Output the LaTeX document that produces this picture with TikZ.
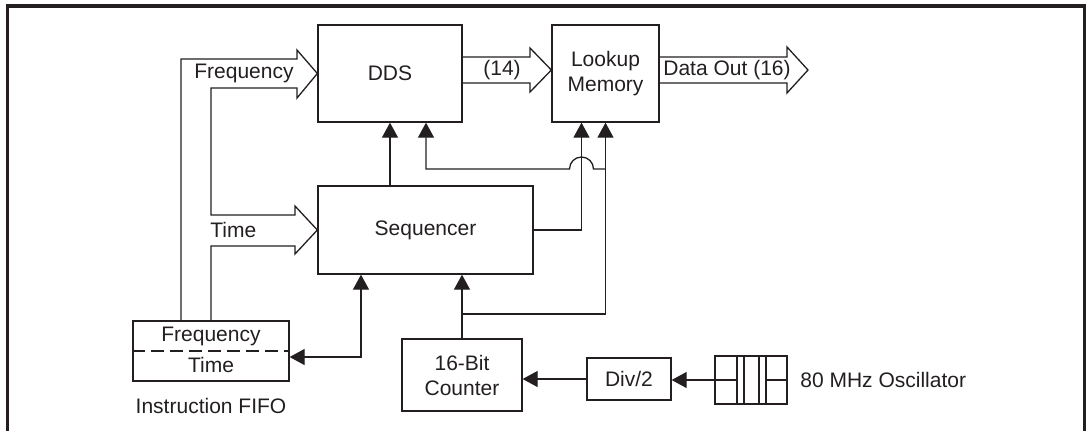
\documentclass[tikz,border=0pt]{standalone}
\usepackage{fontspec}
\setmainfont{Liberation Sans}
\usepackage{tikz}
\usetikzlibrary{arrows.meta,positioning}
\usepackage{xcolor}
\definecolor{niblack}{RGB}{35,31,32}
\tikzstyle{block} = [rectangle, draw=niblack, line width=0.65pt, inner sep=0pt, text centered, align=center, text=niblack]
\tikzstyle{bus} = [draw=niblack, line width=0.65pt, line join=miter]
\tikzstyle{arrow} = [draw=niblack, line width=0.65pt, -{Triangle[length=7.5pt,width=8pt]}]
\tikzstyle{dblarrow} = [draw=niblack, line width=0.65pt, {Triangle[length=7.5pt,width=8pt]}-{Triangle[length=7.5pt,width=8pt]}]
\tikzstyle{tagtext} = [text=niblack, inner sep=0pt]
\begin{document}
\begin{tikzpicture}[x=0.5pt, y=-0.5pt, font=\fontsize{10.5}{12.5}\selectfont]
\useasboundingbox (0,0) rectangle (1086,430);
% Frame
\draw[niblack, line width=1.75pt, line join=miter] (7.5,432) -- (7.5,6) -- (1084.5,6) -- (1084.5,432);

% Blocks
\node (dds) [block, minimum width=72pt, minimum height=48.5pt] at (390,73.5) {DDS};
\node (lookup) [block, minimum width=53.5pt, minimum height=48.5pt] at (605.5,73.5) {Lookup\\Memory};
\node (seq) [block, minimum width=107.5pt, minimum height=44pt] at (425.5,230) {Sequencer};
\node (fifo) [block, minimum width=78pt, minimum height=30pt] at (211,351) {};
\node (counter) [block, minimum width=60pt, minimum height=36pt] at (462,375) {16-Bit\\Counter};
\node (div) [block, minimum width=42pt, minimum height=21pt] at (629,379) {Div/2};
\node (osc) [block, minimum width=36pt, minimum height=24pt] at (751,380) {};

% Instruction FIFO
\draw[niblack, line width=0.65pt, dash pattern=on 6.5pt off 3pt] (fifo.west) -- (fifo.east);
\node[tagtext] at (211,336) {Frequency};
\node[tagtext] at (211,365) {Time};
\node[tagtext] at (211,406) {Instruction FIFO};

% Oscillator crystal
\foreach \x in {737,744,759,766}
  \draw[niblack, line width=0.65pt] (\x,356) -- (\x,404);
\draw[niblack, line width=0.65pt] (osc.west) -- (737,380);
\draw[niblack, line width=0.65pt] (766,380) -- (osc.east);
\node[tagtext, anchor=west] at (800,380) {80 MHz Oscillator};

% Bus arrows
\draw[bus] (fifo.north -| 181,0) -- (181,59) -- (297,59) -- (297,50) -- (dds.west) -- (297,98) -- (297,88) -- (211,88)
  -- (211,215) -- (295,215) -- (295,206) -- (seq.west) -- (295,254) -- (295,246) -- (211,246) -- (fifo.north);
\draw[bus] (dds.east |- 0,57) -- (530,57) -- (530,48) -- ([yshift=1.75pt]lookup.west) -- (530,92) -- (530,83) -- (dds.east |- 0,83);
\coordinate (dataout) at (808,70);
\draw[bus] (lookup.east |- 0,57) -- (787,57) -- (787,47) -- (dataout) -- (787,93) -- (787,83) -- (lookup.east |- 0,83);
\node[tagtext] at (244,73) {Frequency};
\node[tagtext, anchor=west] at (210,230) {Time};
\node[tagtext] at (502,70) {(14)};
\node[tagtext] at (727,70) {Data Out (16)};

% Control arrows
\coordinate (tap) at (counter.north |- 0,314);
\draw[arrow] (dds.south |- seq.north) -- (dds.south);
\draw[arrow] (seq.east) -| ([xshift=-12pt]lookup.south);
\draw[arrow] (counter.north) -- (counter.north |- seq.south);
\draw[arrow] (tap) -| (lookup.south);
\draw[arrow] (lookup.south |- 0,169) -- (593.5,169) arc[start angle=0, end angle=180, radius=6pt] -- (426,169) -- (dds.south -| 426,0);
\draw[dblarrow] ([yshift=-3pt]fifo.east) -| ([xshift=-32.25pt]seq.south);
\draw[arrow] (div.west) -- (counter.east |- div.west);
\draw[arrow] (osc.west) -- (div.east |- osc.west);
\end{tikzpicture}
\end{document}
